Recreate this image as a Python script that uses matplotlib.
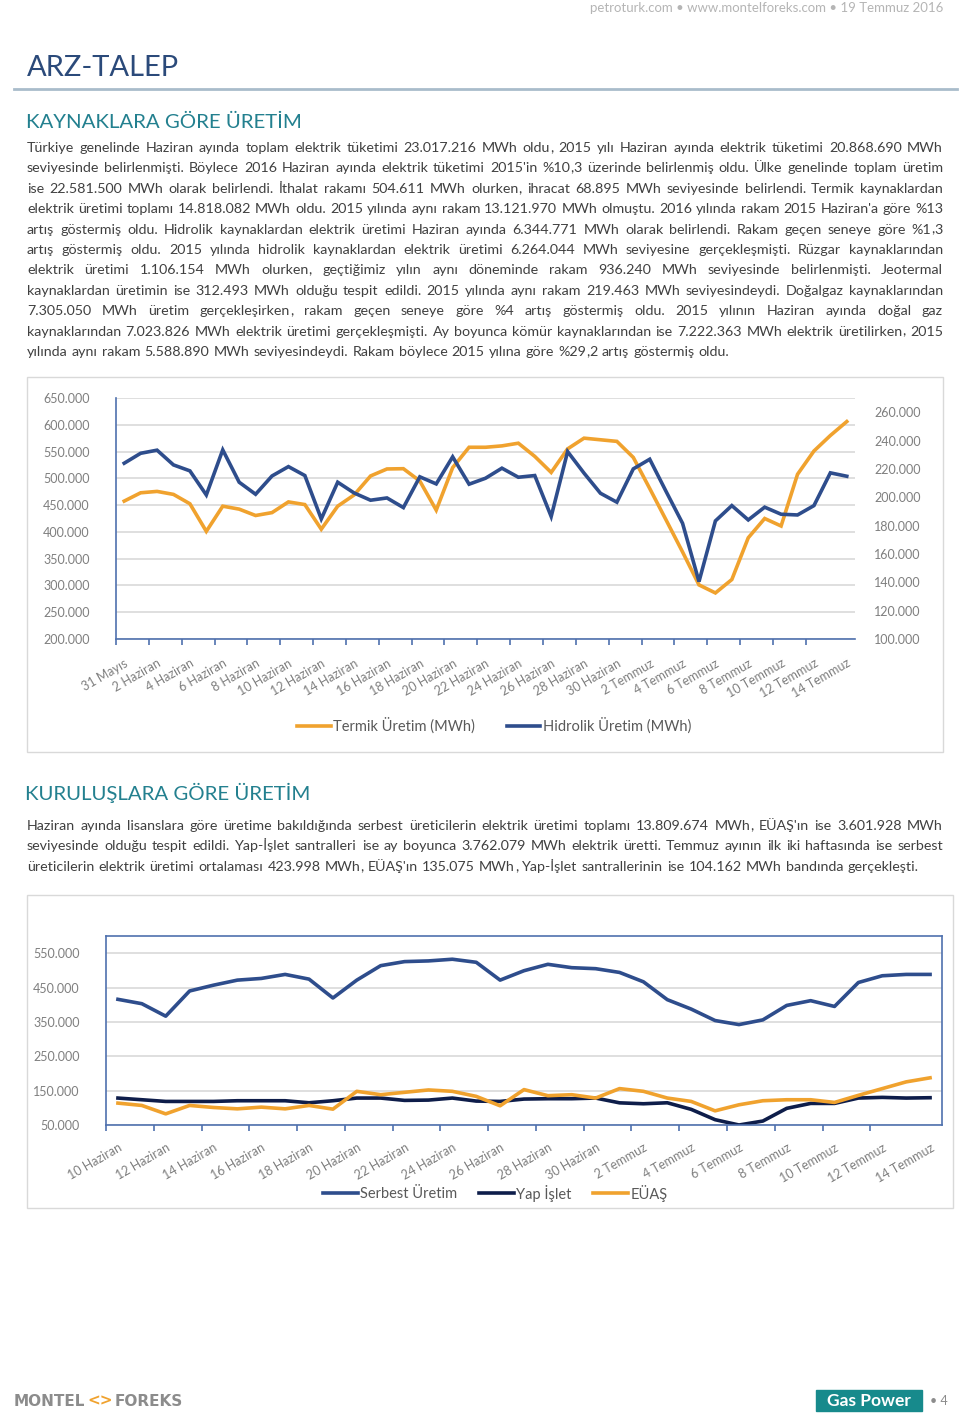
import re
import matplotlib
matplotlib.use("Agg")
import matplotlib.pyplot as plt
from matplotlib.patches import Rectangle
from matplotlib.lines import Line2D
from matplotlib.ticker import FuncFormatter

plt.rcParams['font.family'] = 'Lato'

# --- data (values in MWh) ---
labels1 = ["31 Mayıs", "2 Haziran", "4 Haziran", "6 Haziran", "8 Haziran", "10 Haziran",
           "12 Haziran", "14 Haziran", "16 Haziran", "18 Haziran", "20 Haziran", "22 Haziran",
           "24 Haziran", "26 Haziran", "28 Haziran", "30 Haziran", "2 Temmuz", "4 Temmuz",
           "6 Temmuz", "8 Temmuz", "10 Temmuz", "12 Temmuz", "14 Temmuz"]
termik = [457500, 473000, 475600, 470000, 452500, 401000, 448000, 442500, 430600, 436000,
          456000, 451000, 405000, 448000, 469000, 504400, 517500, 518000, 495000, 440600,
          520000, 558000, 558000, 560600, 565600, 541000, 511000, 555000, 575000, 572000,
          569000, 539000, 481000, 422000, 362500, 301000, 286000, 311000, 389000, 425000,
          411000, 507500, 551000, 580000, 606000]
hidrolik = [224000, 231000, 233200, 222800, 218600, 201600, 233400, 210600, 202100, 215000,
            221600, 215300, 184700, 210600, 203000, 197900, 199500, 192700, 214400, 209400,
            228500, 209200, 213400, 220500, 214100, 215300, 186400, 232200, 217000, 202800,
            196500, 220000, 226800, 204000, 181600, 140500, 183300, 194100, 184000, 193000,
            188000, 187500, 194100, 217200, 214800]

labels2 = ["10 Haziran", "12 Haziran", "14 Haziran", "16 Haziran", "18 Haziran", "20 Haziran",
           "22 Haziran", "24 Haziran", "26 Haziran", "28 Haziran", "30 Haziran", "2 Temmuz",
           "4 Temmuz", "6 Temmuz", "8 Temmuz", "10 Temmuz", "12 Temmuz", "14 Temmuz"]
serbest = [415700, 403000, 366700, 440000, 456900, 471600, 476500, 488200, 474500, 419600,
           471600, 513700, 525500, 527500, 532400, 523500, 471600, 499000, 517600, 507800,
           504900, 494000, 466700, 414700, 387300, 354000, 342200, 355900, 398000, 411800,
           395000, 464700, 484300, 488200, 488200]
yap_islet = [128400, 123500, 118600, 118600, 118600, 120600, 120600, 120600, 114700, 120600,
             128400, 128400, 121600, 122500, 128400, 119600, 118600, 125500, 126500, 126500,
             128400, 114500, 111800, 114700, 95500, 65500, 50000, 61500, 98500, 112800,
             112800, 128400, 130400, 128400, 129400]
euas = [113700, 106900, 82400, 106900, 101000, 97000, 102000, 97000, 106900, 96100,
        148000, 138200, 145100, 152000, 148000, 133300, 105900, 153000, 135300, 138200,
        128400, 155900, 148000, 128400, 118600, 91200, 108800, 120600, 123500, 123500,
        115700, 136300, 155900, 175500, 187300]

para1 = [
    "Türkiye genelinde Haziran ayında toplam elektrik tüketimi 23.017.216 MWh oldu, 2015 yılı Haziran ayında elektrik tüketimi  20.868.690  MWh",
    "seviyesinde belirlenmişti. Böylece 2016 Haziran ayında elektrik tüketimi 2015'in %10,3 üzerinde belirlenmiş oldu. Ülke genelinde toplam üretim",
    "ise 22.581.500 MWh olarak belirlendi. İthalat rakamı 504.611 MWh olurken, ihracat 68.895 MWh seviyesinde belirlendi. Termik kaynaklardan",
    "elektrik üretimi toplamı 14.818.082 MWh oldu. 2015 yılında aynı rakam 13.121.970 MWh olmuştu. 2016 yılında rakam 2015 Haziran'a göre %13",
    "artış göstermiş oldu. Hidrolik kaynaklardan elektrik üretimi Haziran ayında 6.344.771 MWh olarak belirlendi. Rakam geçen seneye göre %1,3",
    "artış göstermiş oldu. 2015 yılında hidrolik kaynaklardan elektrik üretimi 6.264.044 MWh seviyesine gerçekleşmişti. Rüzgar kaynaklarından",
    "elektrik üretimi 1.106.154 MWh olurken, geçtiğimiz yılın aynı döneminde rakam 936.240 MWh seviyesinde belirlenmişti. Jeotermal",
    "kaynaklardan üretimin ise 312.493 MWh olduğu tespit edildi. 2015 yılında aynı rakam 219.463 MWh seviyesindeydi. Doğalgaz kaynaklarından",
    "7.305.050 MWh üretim gerçekleşirken, rakam geçen seneye göre %4 artış göstermiş oldu. 2015 yılının Haziran ayında doğal gaz",
    "kaynaklarından 7.023.826 MWh elektrik üretimi gerçekleşmişti. Ay boyunca kömür kaynaklarından ise 7.222.363 MWh elektrik üretilirken, 2015",
    "yılında aynı rakam 5.588.890 MWh seviyesindeydi. Rakam böylece 2015 yılına göre %29,2 artış göstermiş oldu.",
]
para2 = [
    "Haziran ayında lisanslara göre üretime bakıldığında serbest üreticilerin elektrik üretimi toplamı 13.809.674 MWh, EÜAŞ'ın ise 3.601.928 MWh",
    "seviyesinde olduğu tespit edildi. Yap-İşlet santralleri ise ay boyunca 3.762.079 MWh elektrik üretti. Temmuz ayının ilk iki haftasında ise serbest",
    "üreticilerin elektrik üretimi ortalaması 423.998 MWh, EÜAŞ'ın 135.075 MWh, Yap-İşlet santrallerinin ise 104.162 MWh bandında gerçekleşti.",
]

ORANGE = '#F0A22E'
BLUE = '#2E4D8C'
NAVY = '#0E1D4A'
AXBLUE = '#4F71AE'
GRID = '#D9D9D9'
TICKC = '#7F7F7F'
BODY = '#404040'
TEAL = '#23808F'

W, H = 960, 1419
fig = plt.figure(figsize=(9.6, 14.19), dpi=100)
renderer = fig.canvas.get_renderer()


def fx(x):
    return x / W


def fy(y):
    return 1 - y / H


def thousands(v, pos=None):
    return f"{v:,.0f}".replace(",", ".")


def word_parts(word, y, size):
    # commas drawn on their own, otherwise the word sits a bit low
    parts = [p for p in re.split(r'(,)', word) if p]
    ts = [fig.text(0, fy(y), p, fontsize=size, color=BODY, va='baseline') for p in parts]
    ws = [t.get_window_extent(renderer).width for t in ts]
    return ts, ws


def text_line(y, s, justify, x0=27, x1=943, size=10.3):
    # y is the baseline in pixels from the top
    words = [word_parts(w, y, size) for w in s.split()]
    widths = [sum(ws) for ts, ws in words]
    gap = (x1 - x0 - sum(widths)) / (len(words) - 1) if justify else 4.2
    x = x0
    for ts, ws in words:
        for t, w in zip(ts, ws):
            t.set_x(fx(x))
            x += w
        x += gap


# header
fig.text(fx(943), fy(8), "petroturk.com • www.montelforeks.com • 19 Temmuz 2016",
         fontsize=9.5, color='#B5B5B5', ha='right', va='center')
fig.text(fx(27), fy(68), "ARZ-TALEP", fontsize=21, color='#2B4A7A', va='center')
fig.add_artist(Line2D([fx(14), fx(957)], [fy(89), fy(89)], color='#A9BCCB', lw=2))
fig.text(fx(26), fy(122), "KAYNAKLARA GÖRE ÜRETİM", fontsize=14.7, color=TEAL, va='center')

for i, s in enumerate(para1):
    text_line(152 + i * 20.4, s, i < len(para1) - 1)

# chart 1 box
fig.add_artist(Rectangle((fx(27), fy(752)), fx(943) - fx(27), fy(377) - fy(752),
                         transform=fig.transFigure, fill=False, edgecolor=GRID, lw=1))

ax1 = fig.add_axes([fx(116), fy(639), fx(855) - fx(116), fy(398) - fy(639)])
x1 = range(len(termik))
ax1.plot(x1, termik, color=ORANGE, lw=2.6, solid_joinstyle='miter')
ax1.set_xlim(-0.5, len(termik) - 0.5)
ax1.set_ylim(200000, 650000)
ax1.set_yticks(range(200000, 650001, 50000))
ax1.yaxis.set_major_formatter(FuncFormatter(thousands))
ax1.grid(axis='y', color=GRID, lw=1.2)
ax1.set_axisbelow(True)
for sp in ['top', 'right']:
    ax1.spines[sp].set_visible(False)
for sp in ['left', 'bottom']:
    ax1.spines[sp].set_color(AXBLUE)
    ax1.spines[sp].set_linewidth(1.2)
ax1.set_xticks([k - 0.5 for k in range(0, len(termik) - 1, 2)])
ax1.set_xticklabels([])
ax1.set_xticks(range(0, len(termik), 2), minor=True)
ax1.set_xticklabels(labels1, minor=True, rotation=30, ha='right', rotation_mode='anchor',
                    fontsize=9, color=TICKC)
ax1.tick_params(axis='x', which='major', length=4, width=1.2, color=AXBLUE)
ax1.tick_params(axis='x', which='minor', length=0, pad=13)
ax1.tick_params(axis='y', length=0, pad=19, labelsize=9, labelcolor=TICKC)

ax1r = ax1.twinx()
ax1r.plot(x1, hidrolik, color=BLUE, lw=2.6, solid_joinstyle='miter')
ax1r.set_ylim(100000, 270000)
ax1r.set_yticks(range(100000, 260001, 20000))
ax1r.yaxis.set_major_formatter(FuncFormatter(thousands))
for sp in ax1r.spines.values():
    sp.set_visible(False)
ax1r.tick_params(axis='y', length=0, pad=14, labelsize=9, labelcolor=TICKC)

fig.legend([Line2D([], [], color=ORANGE, lw=2.6), Line2D([], [], color=BLUE, lw=2.6)],
           ["Termik Üretim (MWh)", "Hidrolik Üretim (MWh)"], loc='center',
           bbox_to_anchor=(fx(494), fy(726)), ncol=2, frameon=False, fontsize=10.5,
           labelcolor='#595959', handlelength=2.3, handletextpad=0.15, columnspacing=2.2)

# second section
fig.text(fx(25), fy(793), "KURULUŞLARA GÖRE ÜRETİM", fontsize=14.7, color=TEAL, va='center')
for i, s in enumerate(para2):
    text_line(830 + i * 20.4, s, i < len(para2) - 1)

fig.add_artist(Rectangle((fx(27), fy(1208)), fx(953) - fx(27), fy(895) - fy(1208),
                         transform=fig.transFigure, fill=False, edgecolor=GRID, lw=1))

ax2 = fig.add_axes([fx(106), fy(1125), fx(942) - fx(106), fy(936) - fy(1125)])
x2 = range(len(serbest))
ax2.plot(x2, serbest, color=BLUE, lw=2.6, label="Serbest Üretim")
ax2.plot(x2, yap_islet, color=NAVY, lw=2.6, label="Yap İşlet")
ax2.plot(x2, euas, color=ORANGE, lw=2.6, label="EÜAŞ")
ax2.set_xlim(-0.5, len(serbest) - 0.5)
ax2.set_ylim(50000, 600000)
ax2.set_yticks(range(50000, 550001, 100000))
ax2.yaxis.set_major_formatter(FuncFormatter(thousands))
ax2.grid(axis='y', color=GRID, lw=1.2)
ax2.set_axisbelow(True)
for sp in ax2.spines.values():
    sp.set_color(AXBLUE)
    sp.set_linewidth(1.2)
ax2.set_xticks([k - 0.5 for k in range(0, len(serbest) - 1, 2)])
ax2.set_xticklabels([])
ax2.set_xticks(range(0, len(serbest), 2), minor=True)
ax2.set_xticklabels(labels2, minor=True, rotation=30, ha='right', rotation_mode='anchor',
                    fontsize=9, color=TICKC)
ax2.tick_params(axis='x', which='major', length=4, width=1.2, color=AXBLUE)
ax2.tick_params(axis='x', which='minor', length=0, pad=12)
ax2.tick_params(axis='y', length=0, pad=19, labelsize=9, labelcolor=TICKC)

fig.legend(*ax2.get_legend_handles_labels(), loc='center', bbox_to_anchor=(fx(495), fy(1193)),
           ncol=3, frameon=False, fontsize=10.5, labelcolor='#595959', handlelength=2.4,
           handletextpad=0.15, columnspacing=1.5)

# footer logos
x = 14
for part, col in [("MONTEL", '#8C8C8C'), ("<>", ORANGE), ("FOREKS", '#8C8C8C')]:
    t = fig.text(fx(x), fy(1401), part, fontsize=11, fontweight='bold', color=col,
                 family='DejaVu Sans', va='center')
    x += t.get_window_extent(renderer).width + 2
fig.add_artist(Rectangle((fx(816), fy(1411)), fx(922) - fx(816), fy(1390) - fy(1411),
                         transform=fig.transFigure, color='#178A8C'))
fig.text(fx(869), fy(1401), "Gas Power", fontsize=12.5, fontweight='bold', color='white',
         ha='center', va='center')
fig.text(fx(930), fy(1401), "• 4", fontsize=9, color='#8C8C8C', va='center')

fig.savefig("out.png", dpi=100)
